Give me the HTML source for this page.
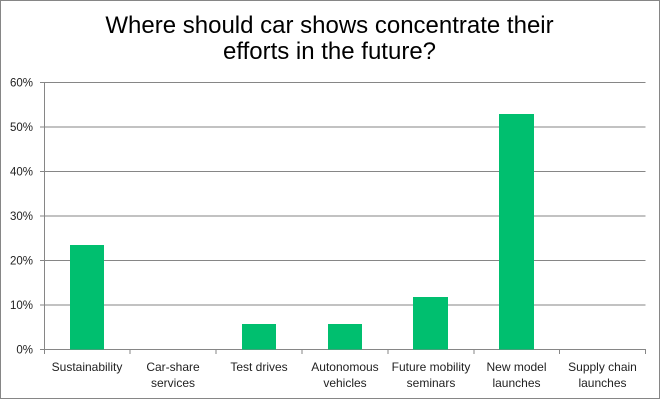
<!DOCTYPE html>
<html><head><meta charset="utf-8"><style>
html,body{margin:0;padding:0;background:#fff;}
svg{display:block;}
text{font-family:"Liberation Sans",Arial,sans-serif;}
</style></head><body>
<svg width="660" height="400" viewBox="0 0 660 400" xmlns="http://www.w3.org/2000/svg">
<rect x="0.5" y="0.5" width="659" height="398" fill="#fff" stroke="#868686" stroke-width="1"/>
<text x="329.5" y="33" font-size="24" text-anchor="middle" fill="#000">Where should car shows concentrate their</text>
<text x="329.5" y="59" font-size="24" text-anchor="middle" fill="#000">efforts in the future?</text>
<g stroke="#868686" stroke-width="1">
<line x1="40" y1="82.5" x2="645.5" y2="82.5"/>
<line x1="40" y1="127" x2="645.5" y2="127"/>
<line x1="40" y1="171.5" x2="645.5" y2="171.5"/>
<line x1="40" y1="216" x2="645.5" y2="216"/>
<line x1="40" y1="260.5" x2="645.5" y2="260.5"/>
<line x1="40" y1="305" x2="645.5" y2="305"/>
<line x1="40" y1="349.5" x2="645.5" y2="349.5"/>
<line x1="44.5" y1="82" x2="44.5" y2="354"/>
<line x1="130" y1="349" x2="130" y2="354"/>
<line x1="216" y1="349" x2="216" y2="354"/>
<line x1="302" y1="349" x2="302" y2="354"/>
<line x1="388" y1="349" x2="388" y2="354"/>
<line x1="474" y1="349" x2="474" y2="354"/>
<line x1="559.5" y1="349" x2="559.5" y2="354"/>
<line x1="645.5" y1="349" x2="645.5" y2="354"/>
</g>
<g fill="#00BF6F">
<rect x="70" y="245" width="34" height="104.5"/>
<rect x="242" y="324" width="34" height="25.5"/>
<rect x="328" y="324" width="34" height="25.5"/>
<rect x="413" y="297" width="35" height="52.5"/>
<rect x="499" y="114" width="35" height="235.5"/>
</g>
<g font-size="11.5" fill="#222" text-anchor="end">
<text x="33" y="86.5">60%</text>
<text x="33" y="131">50%</text>
<text x="33" y="175.5">40%</text>
<text x="33" y="220">30%</text>
<text x="33" y="264.5">20%</text>
<text x="33" y="309">10%</text>
<text x="33" y="353.5">0%</text>
</g>
<g font-size="12" fill="#222" text-anchor="middle">
<text x="87" y="371">Sustainability</text>
<text x="173" y="371">Car-share</text>
<text x="173" y="387">services</text>
<text x="259" y="371">Test drives</text>
<text x="345" y="371">Autonomous</text>
<text x="345" y="387">vehicles</text>
<text x="431" y="371">Future mobility</text>
<text x="431" y="387">seminars</text>
<text x="516.5" y="371">New model</text>
<text x="516.5" y="387">launches</text>
<text x="602.5" y="371">Supply chain</text>
<text x="602.5" y="387">launches</text>
</g>
</svg>
</body></html>
